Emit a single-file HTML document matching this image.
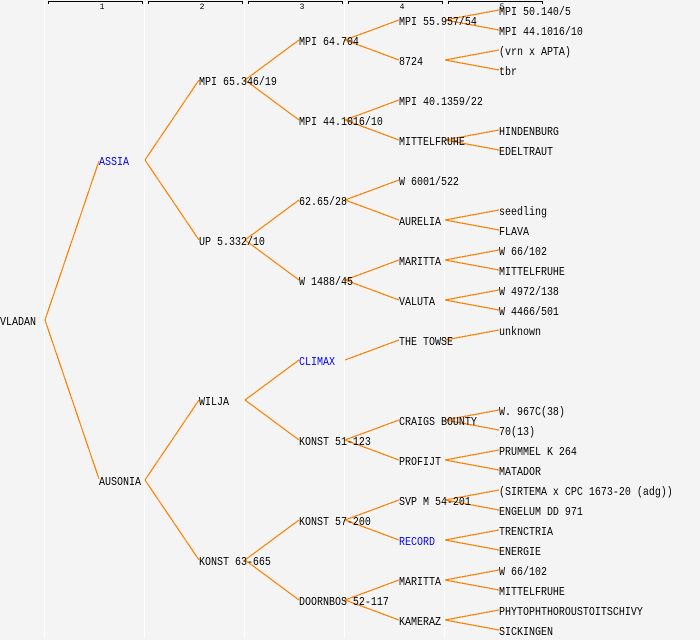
<!DOCTYPE html>
<html><head><meta charset="utf-8"><style>
html,body{margin:0;padding:0;background:#f4f4f4}
svg{display:block}
.t{font:12px "Liberation Mono",monospace;fill:#000}
.b{fill:#0000ff}
.n{font:8px "Liberation Mono",monospace;fill:#000;text-anchor:middle}
</style></head><body>
<svg width="700" height="640" viewBox="0 0 700 640" xmlns="http://www.w3.org/2000/svg">
<rect width="700" height="640" fill="#f4f4f4"/>
<g fill="#fff" shape-rendering="crispEdges">
<rect x="44" y="0" width="1" height="638"/><rect x="144" y="0" width="1" height="638"/><rect x="244" y="0" width="1" height="638"/><rect x="344" y="0" width="1" height="638"/><rect x="444" y="0" width="1" height="638"/>
</g>
<g fill="none" stroke="#000" stroke-width="1" shape-rendering="crispEdges">
<path d="M48.5 4V1.5H142.5V4M148.5 4V1.5H242.5V4M248.5 4V1.5H342.5V4M348.5 4V1.5H442.5V4M448.5 4V1.5H542.5V4"/>
</g>
<g class="lines" fill="none" stroke="#ff8000" stroke-width="1.2" shape-rendering="crispEdges">
<path d="M99 161L45 320L99 479"/>
<path d="M199 80L145 160L199 240M199 400L145 480L199 560"/>
<path d="M299 40L245 80L299 120M299 200L245 240L299 280M299 360L245 400L299 440M299 520L245 560L299 600"/>
<path d="M399 20L345 40L399 60M399 100L345 120L399 140M399 180L345 200L399 220M399 260L345 280L399 300M399 340L345 360M399 420L345 440L399 460M399 500L345 520L399 540M399 580L345 600L399 620"/>
<path d="M499 10L445 20L499 30M499 50L445 60L499 70M499 130L445 140L499 150M499 210L445 220L499 230M499 250L445 260L499 270M499 290L445 300L499 310M499 330L445 340M499 410L445 420L499 430M499 450L445 460L499 470M499 490L445 500L499 510M499 530L445 540L499 550M499 570L445 580L499 590M499 610L445 620L499 630"/>
</g>
<g>
<text class="n" x="102" y="9">1</text><text class="n" x="202" y="9">2</text><text class="n" x="302" y="9">3</text><text class="n" x="402" y="9">4</text><text class="n" x="502" y="9">5</text>
</g>
<g transform="translate(0 -1) scale(.83333 1)">
<text class="t" x="0" y="326">VLADAN</text>
<text class="t b" x="118.8" y="166">ASSIA</text>
<text class="t" x="118.8" y="486">AUSONIA</text>
<text class="t" x="238.8" y="86">MPI 65.346/19</text>
<text class="t" x="238.8" y="246">UP 5.332/10</text>
<text class="t" x="238.8" y="406">WILJA</text>
<text class="t" x="238.8" y="566">KONST 63-665</text>
<text class="t" x="358.8" y="46">MPI 64.704</text>
<text class="t" x="358.8" y="126">MPI 44.1016/10</text>
<text class="t" x="358.8" y="206">62.65/28</text>
<text class="t" x="358.8" y="286">W 1488/45</text>
<text class="t b" x="358.8" y="366">CLIMAX</text>
<text class="t" x="358.8" y="446">KONST 51-123</text>
<text class="t" x="358.8" y="526">KONST 57-200</text>
<text class="t" x="358.8" y="606">DOORNBOS 52-117</text>
<text class="t" x="478.8" y="26">MPI 55.957/54</text>
<text class="t" x="478.8" y="66">8724</text>
<text class="t" x="478.8" y="106">MPI 40.1359/22</text>
<text class="t" x="478.8" y="146">MITTELFRUHE</text>
<text class="t" x="478.8" y="186">W 6001/522</text>
<text class="t" x="478.8" y="226">AURELIA</text>
<text class="t" x="478.8" y="266">MARITTA</text>
<text class="t" x="478.8" y="306">VALUTA</text>
<text class="t" x="478.8" y="346">THE TOWSE</text>
<text class="t" x="478.8" y="426">CRAIGS BOUNTY</text>
<text class="t" x="478.8" y="466">PROFIJT</text>
<text class="t" x="478.8" y="506">SVP M 54-201</text>
<text class="t b" x="478.8" y="546">RECORD</text>
<text class="t" x="478.8" y="586">MARITTA</text>
<text class="t" x="478.8" y="626">KAMERAZ</text>
<text class="t" x="598.8" y="16">MPI 50.140/5</text>
<text class="t" x="598.8" y="36">MPI 44.1016/10</text>
<text class="t" x="598.8" y="56">(vrn x APTA)</text>
<text class="t" x="598.8" y="76">tbr</text>
<text class="t" x="598.8" y="136">HINDENBURG</text>
<text class="t" x="598.8" y="156">EDELTRAUT</text>
<text class="t" x="598.8" y="216">seedling</text>
<text class="t" x="598.8" y="236">FLAVA</text>
<text class="t" x="598.8" y="256">W 66/102</text>
<text class="t" x="598.8" y="276">MITTELFRUHE</text>
<text class="t" x="598.8" y="296">W 4972/138</text>
<text class="t" x="598.8" y="316">W 4466/501</text>
<text class="t" x="598.8" y="336">unknown</text>
<text class="t" x="598.8" y="416">W. 967C(38)</text>
<text class="t" x="598.8" y="436">70(13)</text>
<text class="t" x="598.8" y="456">PRUMMEL K 264</text>
<text class="t" x="598.8" y="476">MATADOR</text>
<text class="t" x="598.8" y="496">(SIRTEMA x CPC 1673-20 (adg))</text>
<text class="t" x="598.8" y="516">ENGELUM DD 971</text>
<text class="t" x="598.8" y="536">TRENCTRIA</text>
<text class="t" x="598.8" y="556">ENERGIE</text>
<text class="t" x="598.8" y="576">W 66/102</text>
<text class="t" x="598.8" y="596">MITTELFRUHE</text>
<text class="t" x="598.8" y="616">PHYTOPHTHOROUSTOITSCHIVY</text>
<text class="t" x="598.8" y="636">SICKINGEN</text>
</g>
</svg>
</body></html>
